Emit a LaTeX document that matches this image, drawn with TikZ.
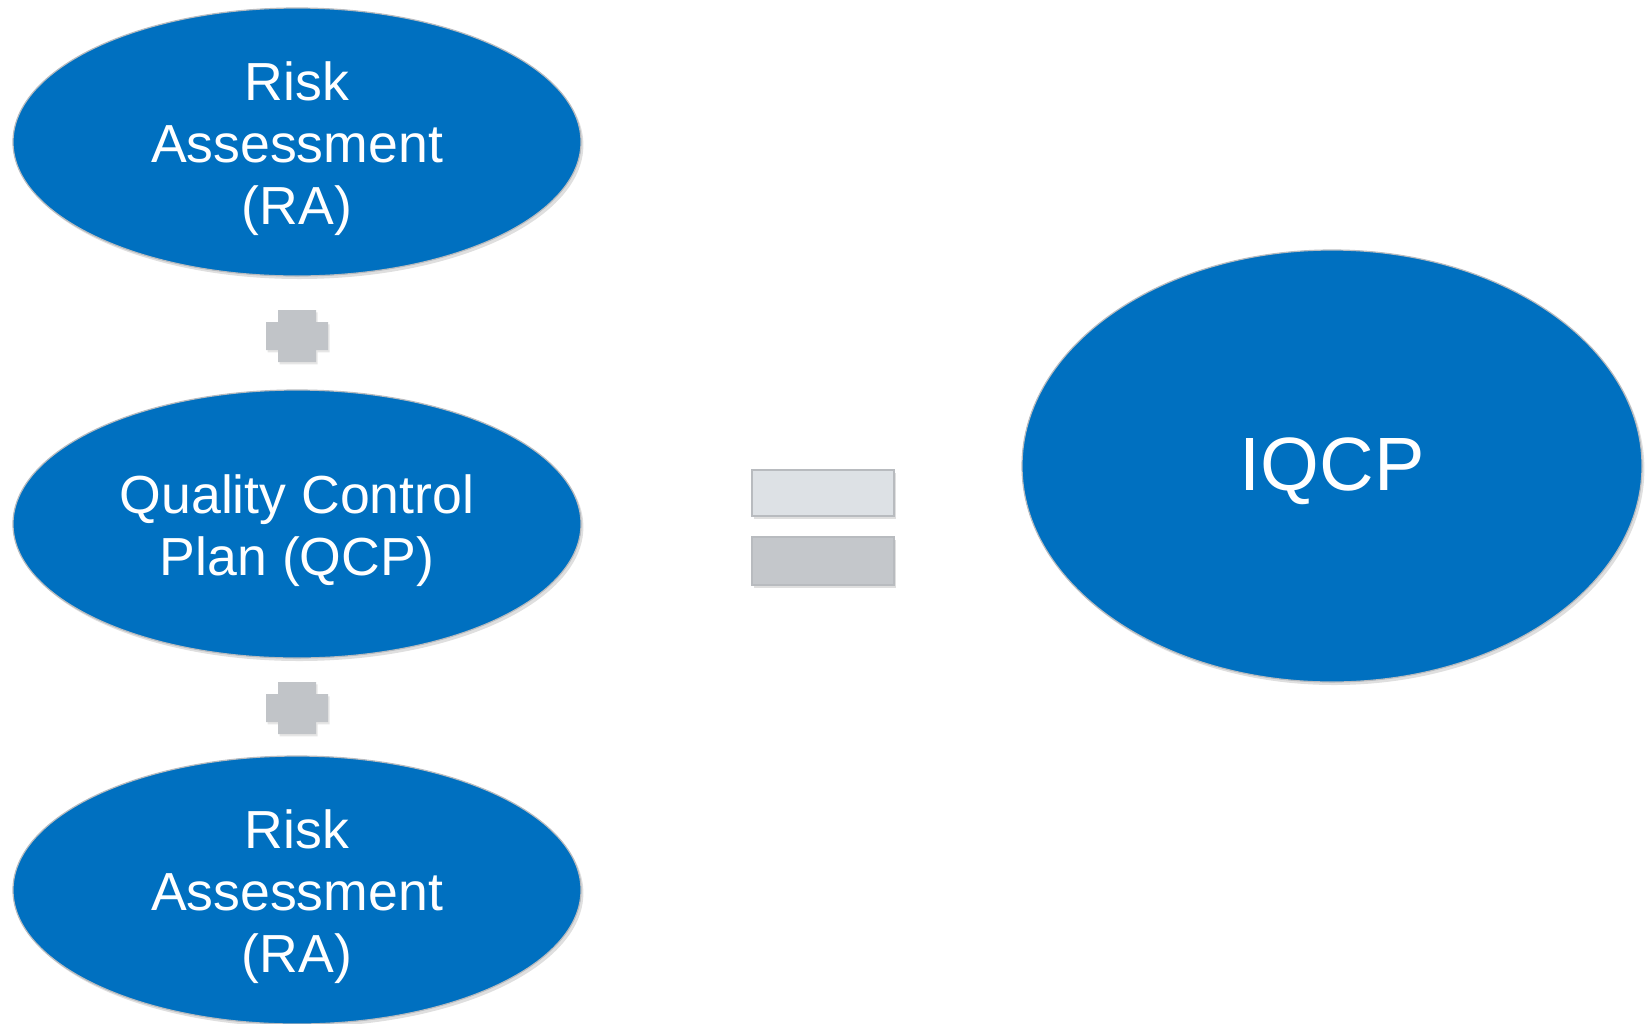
\documentclass[tikz,border=0pt]{standalone}
\usepackage{fontspec}
\setmainfont{Liberation Sans}
\usetikzlibrary{shapes.geometric}
\usetikzlibrary{shadows}
\definecolor{iqblue}{HTML}{0070C0}
\definecolor{plusgray}{HTML}{C1C4C8}
\definecolor{eqlight}{HTML}{DDE1E5}
\definecolor{eqdark}{HTML}{C4C7CB}
\definecolor{rimgray}{HTML}{B8BBBF}
\tikzset{
    bubble/.style={ellipse, fill=iqblue, draw=rimgray, line width=0.6pt,
        inner sep=0pt,
        drop shadow={opacity=0.25, shadow xshift=1.2pt, shadow yshift=-1.5pt}},
    partbox/.style={bubble, minimum width=284pt, minimum height=134pt},
    bubbletext/.style={text=white, align=center, inner sep=0pt},
    parttext/.style={bubbletext, font=\fontsize{26.8}{30.8}\selectfont},
    bar/.style={draw=rimgray, line width=0.6pt, inner sep=0pt,
        drop shadow={opacity=0.25, shadow xshift=0.8pt, shadow yshift=-1.5pt}}
}
\newcommand{\plusmark}[1]{%
    \fill[plusgray, drop shadow={opacity=0.2, shadow xshift=0.8pt, shadow yshift=-1.2pt}]
    ([xshift=-9.5pt,yshift=13pt]#1) -- ([xshift=9.5pt,yshift=13pt]#1) --
    ([xshift=9.5pt,yshift=7pt]#1) -- ([xshift=15.5pt,yshift=7pt]#1) --
    ([xshift=15.5pt,yshift=-7pt]#1) -- ([xshift=9.5pt,yshift=-7pt]#1) --
    ([xshift=9.5pt,yshift=-13pt]#1) -- ([xshift=-9.5pt,yshift=-13pt]#1) --
    ([xshift=-9.5pt,yshift=-7pt]#1) -- ([xshift=-15.5pt,yshift=-7pt]#1) --
    ([xshift=-15.5pt,yshift=7pt]#1) -- ([xshift=-9.5pt,yshift=7pt]#1) -- cycle;}

\begin{document}
\begin{tikzpicture}[x=0.5pt,y=-0.5pt]
    \useasboundingbox (0,0) rectangle (1652,1023);

    % left column
    \node[partbox] (ratop) at (297,142) {};
    \node[partbox] (qcp) at (297,524) {};
    \node[partbox] (rabot) at (297,890) {};
    \node[parttext] (ratoptext) at ([yshift=-3.3pt]ratop.center) {Risk\\Assessment\\(RA)};
    \node[parttext] (qcptext) at ([yshift=-3.3pt]qcp.center) {Quality Control\\Plan (QCP)};
    \node[parttext] (rabottext) at ([yshift=-3.3pt]rabot.center) {Risk\\Assessment\\(RA)};

    % plus signs between
    \coordinate (plusa) at (297,336);
    \coordinate (plusb) at (297,708);
    \plusmark{plusa}
    \plusmark{plusb}

    % equals sign
    \node[bar, fill=eqlight, minimum width=71pt, minimum height=23pt] (eqtop) at (823,493) {};
    \node[bar, fill=eqdark, minimum width=71pt, minimum height=24pt] (eqbot) at (823,561) {};

    % result
    \node[bubble, minimum width=310pt, minimum height=216pt] (iqcp) at (1332,466) {};
    \node[bubbletext, font=\fontsize{37.8}{42}\selectfont] (iqcptext)
        at ([yshift=-2.5pt]iqcp.center) {IQCP};
\end{tikzpicture}
\end{document}
